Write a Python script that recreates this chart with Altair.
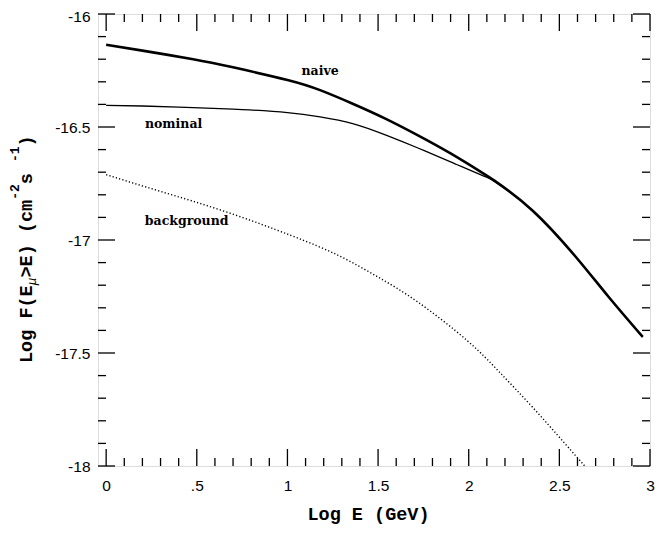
import altair as alt
import pandas as pd

# ---------------- data ----------------
naive_x = [0.0, 0.20, 0.48, 0.70, 1.00, 1.18, 1.36, 1.54, 1.72, 1.90, 2.08, 2.15, 2.35, 2.59, 2.77, 2.96]
naive_y = [-16.136, -16.162, -16.200, -16.236, -16.292, -16.337, -16.397, -16.463, -16.537,
           -16.617, -16.705, -16.742, -16.868, -17.074, -17.250, -17.429]

nominal_x = [0.0, 0.20, 0.48, 0.75, 1.00, 1.18, 1.36, 1.54, 1.72, 1.90, 2.08, 2.15, 2.35, 2.59, 2.77, 2.96]
nominal_y = [-16.404, -16.407, -16.414, -16.423, -16.436, -16.455, -16.485, -16.535, -16.593,
             -16.654, -16.716, -16.745, -16.868, -17.074, -17.250, -17.429]

background_x = [0.0, 0.30, 0.66, 1.02, 1.28, 1.50, 1.72, 1.99, 2.17, 2.35, 2.53, 2.64]
background_y = [-16.711, -16.785, -16.875, -16.980, -17.068, -17.164, -17.275, -17.444,
                -17.585, -17.738, -17.900, -18.0]

label_text = ["naive", "nominal", "background"]
label_x = [1.18, 0.372, 0.444]
label_y = [-16.252, -16.487, -16.914]

x_major = [0, 0.5, 1, 1.5, 2, 2.5, 3]
y_major = [-18, -17.5, -17, -16.5, -16]
x_minor = [round(0.1 * i, 1) for i in range(31) if i % 5]
y_minor = [round(-18 + 0.1 * i, 1) for i in range(21) if i % 5]

x_title = "Log E (GeV)"
# y title pieces: (text, font size, baseline shift, italic)
y_title_parts = [("Log F(E", 18.5, 0, False), ("\u03bc", 13, 4, True), (">E) (cm", 18.5, 0, False),
                 ("-2", 13, -13, False), (" s", 18.5, 0, False), ("-1", 13, -13, False), (")", 18.5, 0, False)]

# ---------------- layout ----------------
W, H = 552, 452
xs = alt.Scale(domain=[-0.045, 3.0], nice=False, zero=False)
ys = alt.Scale(domain=[-18.0, -16.0], nice=False, zero=False)

xaxis = alt.Axis(values=x_major, title=x_title, ticks=False, tickSize=0, domain=False, grid=False,
                 labelFont="Liberation Sans", labelFontSize=15.5, labelColor="black", labelPadding=12,
                 labelFlush=False,
                 labelExpr="datum.value == 0.5 ? '.5' : format(datum.value, '.1~f')",
                 titleFont="Liberation Mono", titleFontSize=18.5, titleFontWeight="bold",
                 titleColor="black", titleX=270, titleY=53, titleBaseline="alphabetic",
                 titleAlign="center", titleAnchor="start")
yaxis = alt.Axis(values=y_major, title=None, ticks=False, tickSize=0, domain=False, grid=False,
                 labelFont="Liberation Sans", labelFontSize=15.5, labelColor="black", labelPadding=8,
                 labelFlush=False,
                 labelOffset={"condition": {"test": "datum.value == -16", "value": 2}, "value": 0},
                 labelExpr="replace(format(datum.value, '.1~f'), '\u2212', '-')")


def X(f):
    return alt.X(f, scale=xs, axis=xaxis)


def Y(f):
    return alt.Y(f, scale=ys, axis=yaxis)


def curve(xv, yv, **kw):
    df = pd.DataFrame({"x": xv, "y": yv})
    return alt.Chart(df).mark_line(interpolate="natural", clip=True, color="black", **kw).encode(
        x=X("x:Q"), y=Y("y:Q"))


layers = [
    curve(naive_x, naive_y, strokeWidth=2.6),
    curve(nominal_x, nominal_y, strokeWidth=1.3),
    curve(background_x, background_y, strokeWidth=1.4, strokeDash=[1.2, 2.2]),
]

lab_df = pd.DataFrame({"t": label_text, "x": label_x, "y": label_y})
layers.append(alt.Chart(lab_df).mark_text(font="DejaVu Serif", fontSize=12.5, fontWeight="bold",
                                           color="black", align="center", baseline="middle").encode(
    x=X("x:Q"), y=Y("y:Q"), text="t:N"))


def xticks(vals, length):
    df = pd.DataFrame({"v": vals})
    out = []
    for y0, y1 in [(H, H - length), (0, length)]:
        out.append(alt.Chart(df).mark_rule(color="black", strokeWidth=1.3).encode(
            x=X("v:Q"), y=alt.value(y0), y2=alt.value(y1)))
    return out


def yticks(vals, length):
    df = pd.DataFrame({"v": vals})
    out = []
    for x0, x1 in [(0, length), (W, W - length)]:
        out.append(alt.Chart(df).mark_rule(color="black", strokeWidth=1.3).encode(
            y=Y("v:Q"), x=alt.value(x0), x2=alt.value(x1)))
    return out


layers += xticks(x_major, 17) + xticks(x_minor, 8) + yticks(y_major, 17) + yticks(y_minor, 8)

# rotated y-axis title built from pieces (monospace font: advance = 0.6 em)
cursor = 349.0
for txt, size, shift, italic in y_title_parts:
    kw = dict(font="Liberation Mono", fontSize=size, fontWeight="bold", color="black",
              angle=270, align="left", baseline="alphabetic")
    if italic:
        kw["fontStyle"] = "italic"
        kw["fontWeight"] = "normal"
    layers.append(alt.Chart(pd.DataFrame({"t": [txt]})).mark_text(**kw).encode(
        text="t:N", x=alt.value(-66 + shift), y=alt.value(cursor)))
    cursor -= len(txt) * 0.6 * size

chart = alt.layer(*layers).properties(
    width=W, height=H,
    autosize=alt.AutoSizeParams(type="none"),
    padding={"left": 90, "top": 6, "right": 5, "bottom": 59},
).configure_view(stroke="black", strokeWidth=1.5).configure(background="white")

chart.save("out.html", embed_options={"renderer": "svg", "actions": False})
